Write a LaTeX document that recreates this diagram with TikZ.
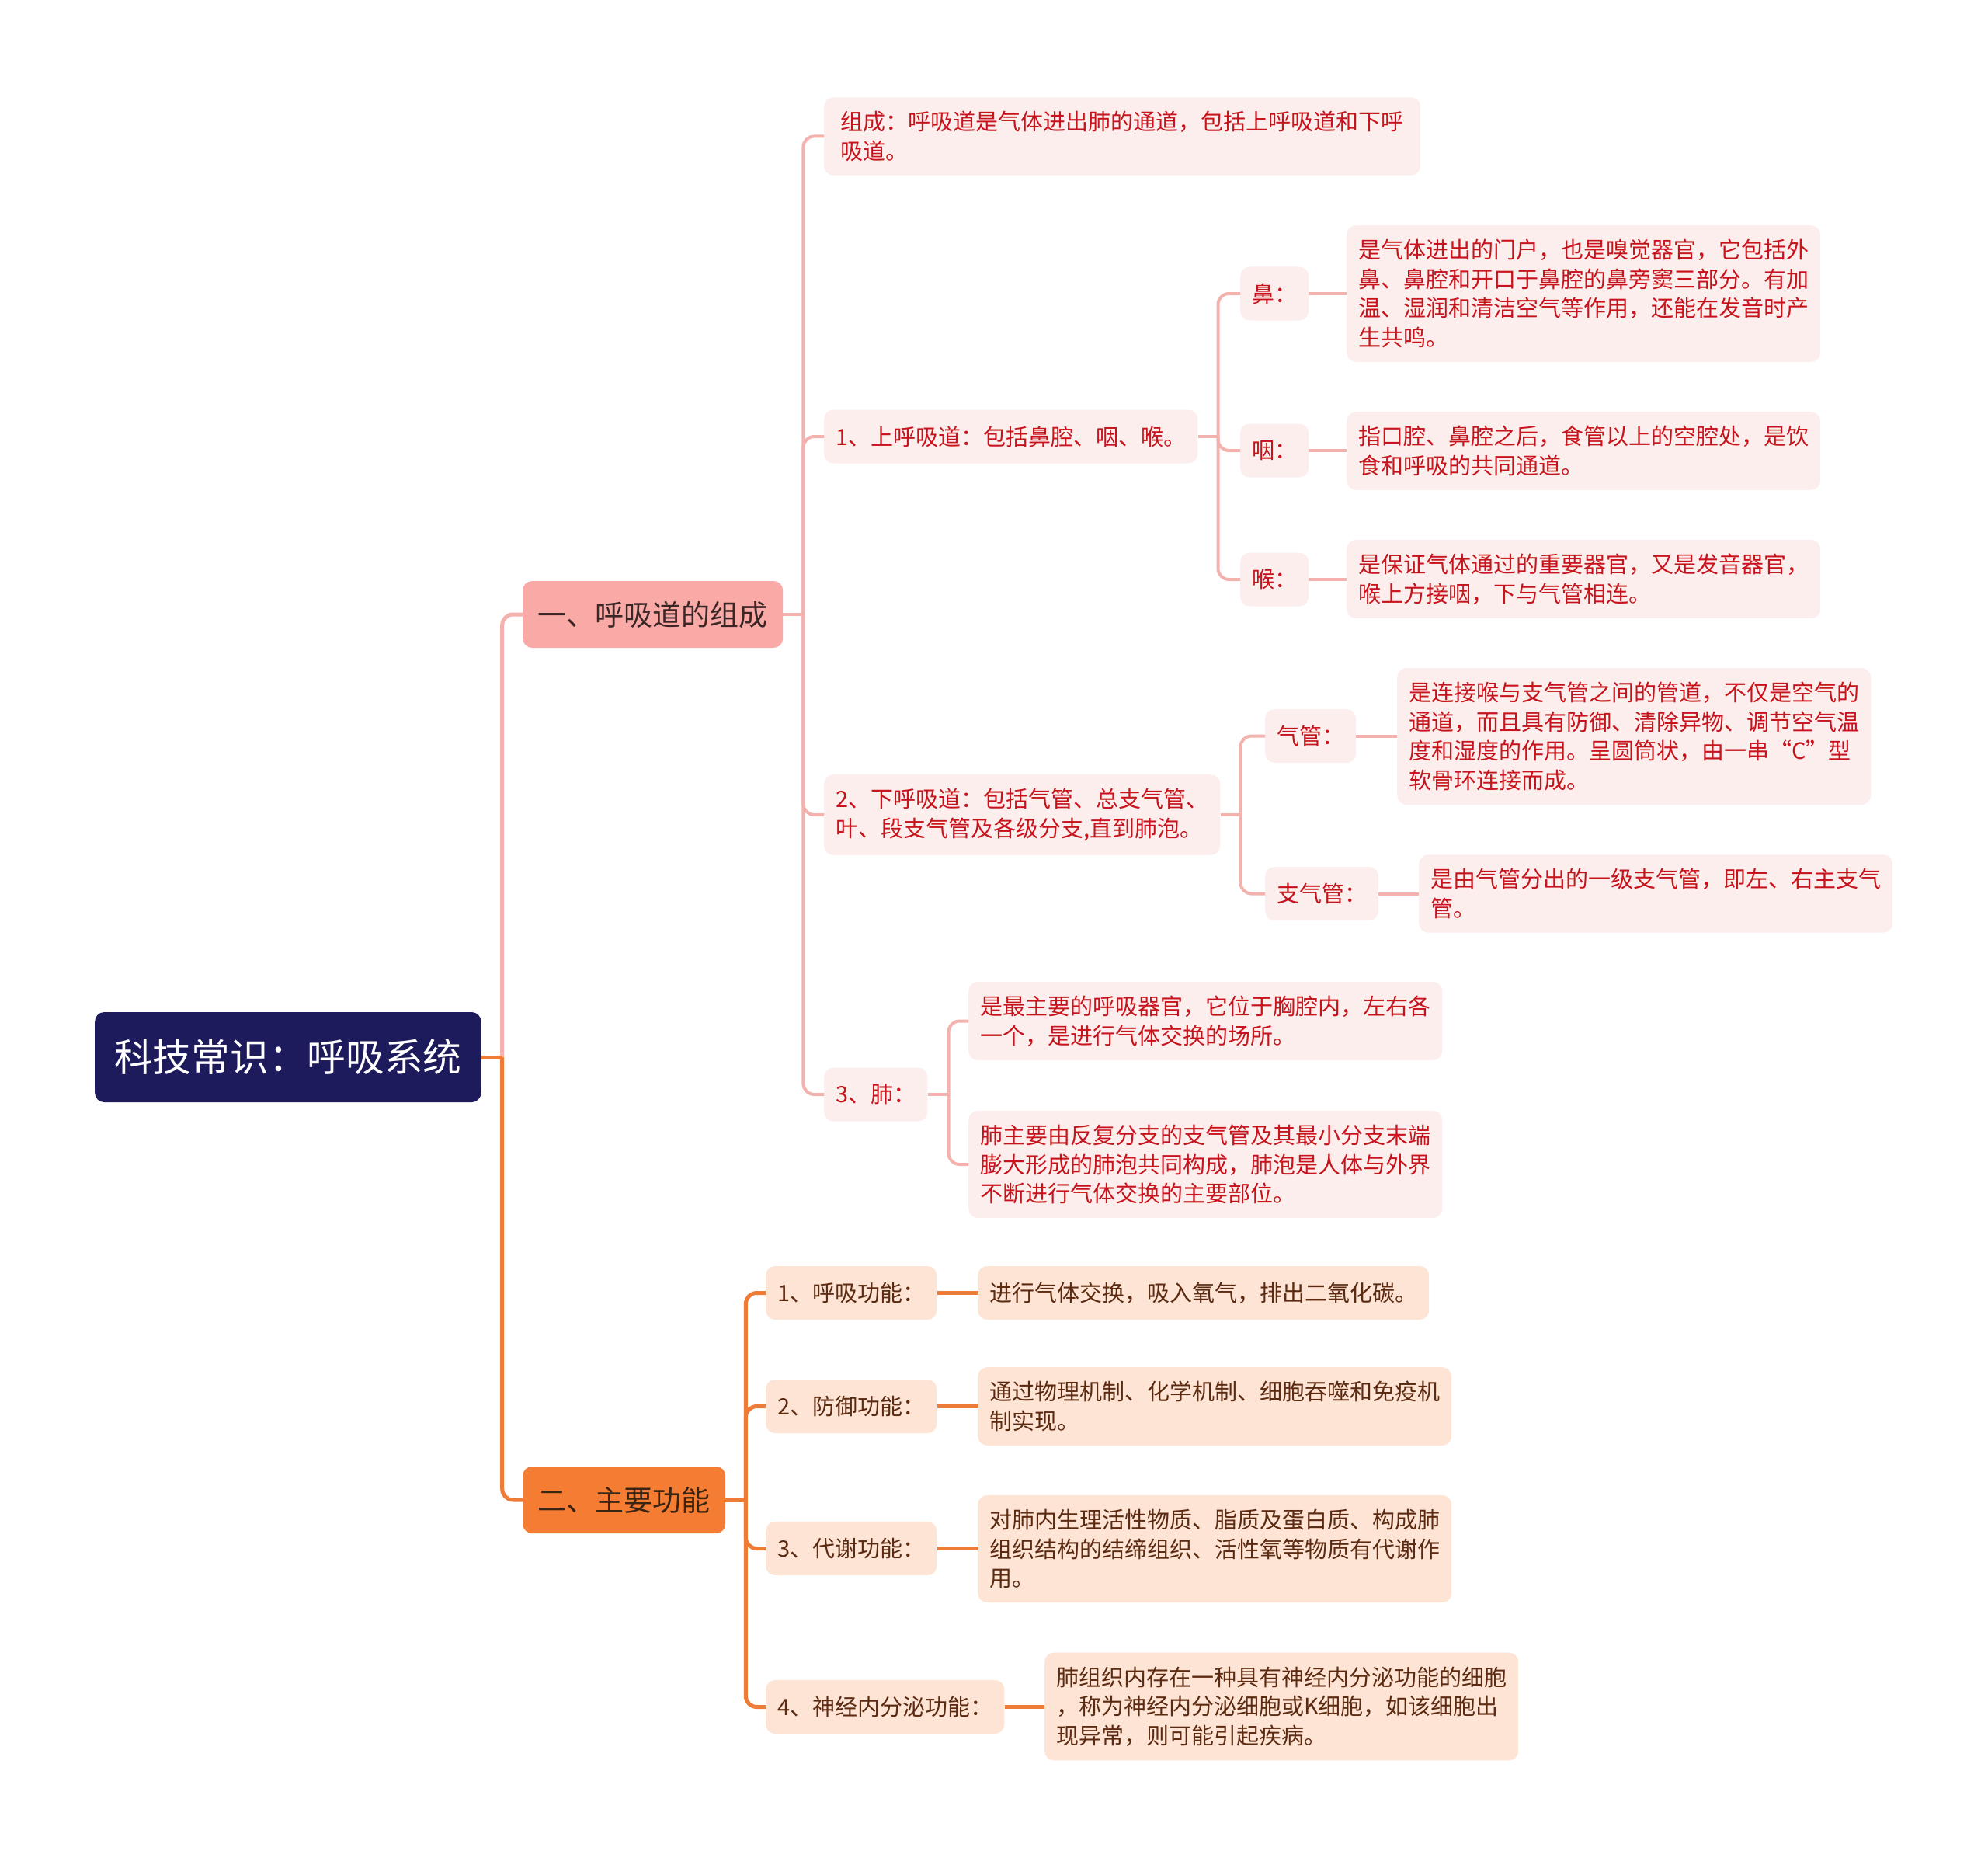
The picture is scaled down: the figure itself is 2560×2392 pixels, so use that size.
\documentclass[tikz,border=0pt]{standalone}
\usepackage{fontspec}
\setmainfont{Noto Sans CJK SC}
\usetikzlibrary{positioning}
\definecolor{rootblue}{HTML}{1D1B5C}
\definecolor{pinkmain}{HTML}{F9AAA6}
\definecolor{pinkdark}{HTML}{3B2626}
\definecolor{orangemain}{HTML}{F57D33}
\definecolor{orangedark}{HTML}{3A2412}
\definecolor{pinkfill}{HTML}{FDEEEE}
\definecolor{pinktext}{HTML}{C7141C}
\definecolor{peachfill}{HTML}{FDE4D4}
\definecolor{peachtext}{HTML}{5B2A11}
\definecolor{lnpink}{HTML}{F4B2AF}
\definecolor{lnorange}{HTML}{EE7C36}

\begin{document}
\begin{tikzpicture}[x=1pt, y=-1pt,
  base/.style={rounded corners=12pt, inner xsep=15pt, inner ysep=18pt, align=left, anchor=west,
    font=\fontsize{29}{37.6}\selectfont, minimum height=69pt},
  pinkbox/.style={base, fill=pinkfill, text=pinktext},
  peachbox/.style={base, fill=peachfill, text=peachtext},
  rootbox/.style={rounded corners=12pt, fill=rootblue, text=white, anchor=west, inner xsep=25pt,
    minimum height=116pt, font=\fontsize{49.7}{60}\selectfont},
  topicbox/.style={rounded corners=12pt, anchor=west, inner xsep=19.5pt, minimum height=86pt,
    font=\fontsize{37}{45}\selectfont},
  pinkln/.style={draw=lnpink, line width=4pt},
  orangeln/.style={draw=lnorange, line width=5pt},
  elbow/.style={rounded corners=14pt}]
\useasboundingbox (0,0) rectangle (2560,2392);

% root and main topics
\node[rootbox] (root) at (122,1361) {科技常识：呼吸系统};
\node[topicbox, fill=pinkmain, text=pinkdark] (parts) at (673,791) {一、呼吸道的组成};
\node[topicbox, fill=orangemain, text=orangedark] (func) at (673,1931) {二、主要功能};

% composition branch
\node[pinkbox, minimum width=768pt] (zucheng) at (1061,175.5) {组成：呼吸道是气体进出肺的通道，包括上呼吸道和下呼\\吸道。};
\node[pinkbox] (upper) at (1061,562) {1、上呼吸道：包括鼻腔、咽、喉。};
\node[pinkbox] (nose) at (1597,378) {鼻：};
\node[pinkbox] (noseinfo) at (1734,378) {是气体进出的门户，也是嗅觉器官，它包括外\\鼻、鼻腔和开口于鼻腔的鼻旁窦三部分。有加\\温、湿润和清洁空气等作用，还能在发音时产\\生共鸣。};
\node[pinkbox] (pharynx) at (1597,580) {咽：};
\node[pinkbox] (pharynxinfo) at (1734,580.5) {指口腔、鼻腔之后，食管以上的空腔处，是饮\\食和呼吸的共同通道。};
\node[pinkbox] (larynx) at (1597,746) {喉：};
\node[pinkbox] (larynxinfo) at (1734,745.5) {是保证气体通过的重要器官，又是发音器官，\\喉上方接咽，下与气管相连。};
\node[pinkbox] (lower) at (1061,1049) {2、下呼吸道：包括气管、总支气管、\\叶、段支气管及各级分支,直到肺泡。};
\node[pinkbox] (trachea) at (1629,947.5) {气管：};
\node[pinkbox] (tracheainfo) at (1799,948) {是连接喉与支气管之间的管道，不仅是空气的\\通道，而且具有防御、清除异物、调节空气温\\度和湿度的作用。呈圆筒状，由一串“C”型\\软骨环连接而成。};
\node[pinkbox] (bronchus) at (1629,1150.5) {支气管：};
\node[pinkbox] (bronchusinfo) at (1827,1150.5) {是由气管分出的一级支气管，即左、右主支气\\管。};
\node[pinkbox] (lung) at (1061,1409) {3、肺：};
\node[pinkbox] (lunga) at (1247,1314.5) {是最主要的呼吸器官，它位于胸腔内，左右各\\一个，是进行气体交换的场所。};
\node[pinkbox] (lungb) at (1247,1499) {肺主要由反复分支的支气管及其最小分支末端\\膨大形成的肺泡共同构成，肺泡是人体与外界\\不断进行气体交换的主要部位。};

% function branch
\node[peachbox] (breath) at (986,1664.5) {1、呼吸功能：};
\node[peachbox] (breathinfo) at (1259,1664.5) {进行气体交换，吸入氧气，排出二氧化碳。};
\node[peachbox] (defence) at (986,1810.5) {2、防御功能：};
\node[peachbox] (defenceinfo) at (1259,1810.5) {通过物理机制、化学机制、细胞吞噬和免疫机\\制实现。};
\node[peachbox] (metab) at (986,1993.5) {3、代谢功能：};
\node[peachbox] (metabinfo) at (1259,1994) {对肺内生理活性物质、脂质及蛋白质、构成肺\\组织结构的结缔组织、活性氧等物质有代谢作\\用。};
\node[peachbox] (neuro) at (986,2197.5) {4、神经内分泌功能：};
\node[peachbox] (neuroinfo) at (1345,2197) {肺组织内存在一种具有神经内分泌功能的细胞\\，称为神经内分泌细胞或K细胞，如该细胞出\\现异常，则可能引起疾病。};

% junctions
\coordinate (rootj) at ([xshift=27pt]root.east);
\coordinate (partsj) at ([xshift=26pt]parts.east);
\coordinate (upperj) at ([xshift=26pt]upper.east);
\coordinate (lowerj) at ([xshift=26pt]lower.east);
\coordinate (lungj) at ([xshift=27pt]lung.east);
\coordinate (funcj) at ([xshift=26pt]func.east);

% connectors
\draw[pinkln, line width=5pt, elbow] (rootj) |- (parts.west);
\draw[orangeln] (root.east) -- (rootj);
\draw[orangeln, elbow] (rootj) |- (func.west);

\draw[pinkln] (parts.east) -- (partsj);
\foreach \c in {zucheng, upper, lower, lung}
  \draw[pinkln, elbow] (partsj) |- (\c.west);
\draw[pinkln] (upper.east) -- (upperj);
\foreach \c in {nose, pharynx, larynx}
  \draw[pinkln, elbow] (upperj) |- (\c.west);
\draw[pinkln] (lower.east) -- (lowerj);
\foreach \c in {trachea, bronchus}
  \draw[pinkln, elbow] (lowerj) |- (\c.west);
\draw[pinkln] (lung.east) -- (lungj);
\foreach \c in {lunga, lungb}
  \draw[pinkln, elbow] (lungj) |- (\c.west);
\foreach \a/\b in {nose/noseinfo, pharynx/pharynxinfo, larynx/larynxinfo, trachea/tracheainfo, bronchus/bronchusinfo}
  \draw[pinkln] (\a.east) -- (\a.east -| \b.west);

\draw[orangeln] (func.east) -- (funcj);
\foreach \c in {breath, defence, metab, neuro}
  \draw[orangeln, elbow] (funcj) |- (\c.west);
\foreach \a/\b in {breath/breathinfo, defence/defenceinfo, metab/metabinfo, neuro/neuroinfo}
  \draw[orangeln] (\a.east) -- (\a.east -| \b.west);
\end{tikzpicture}
\end{document}
